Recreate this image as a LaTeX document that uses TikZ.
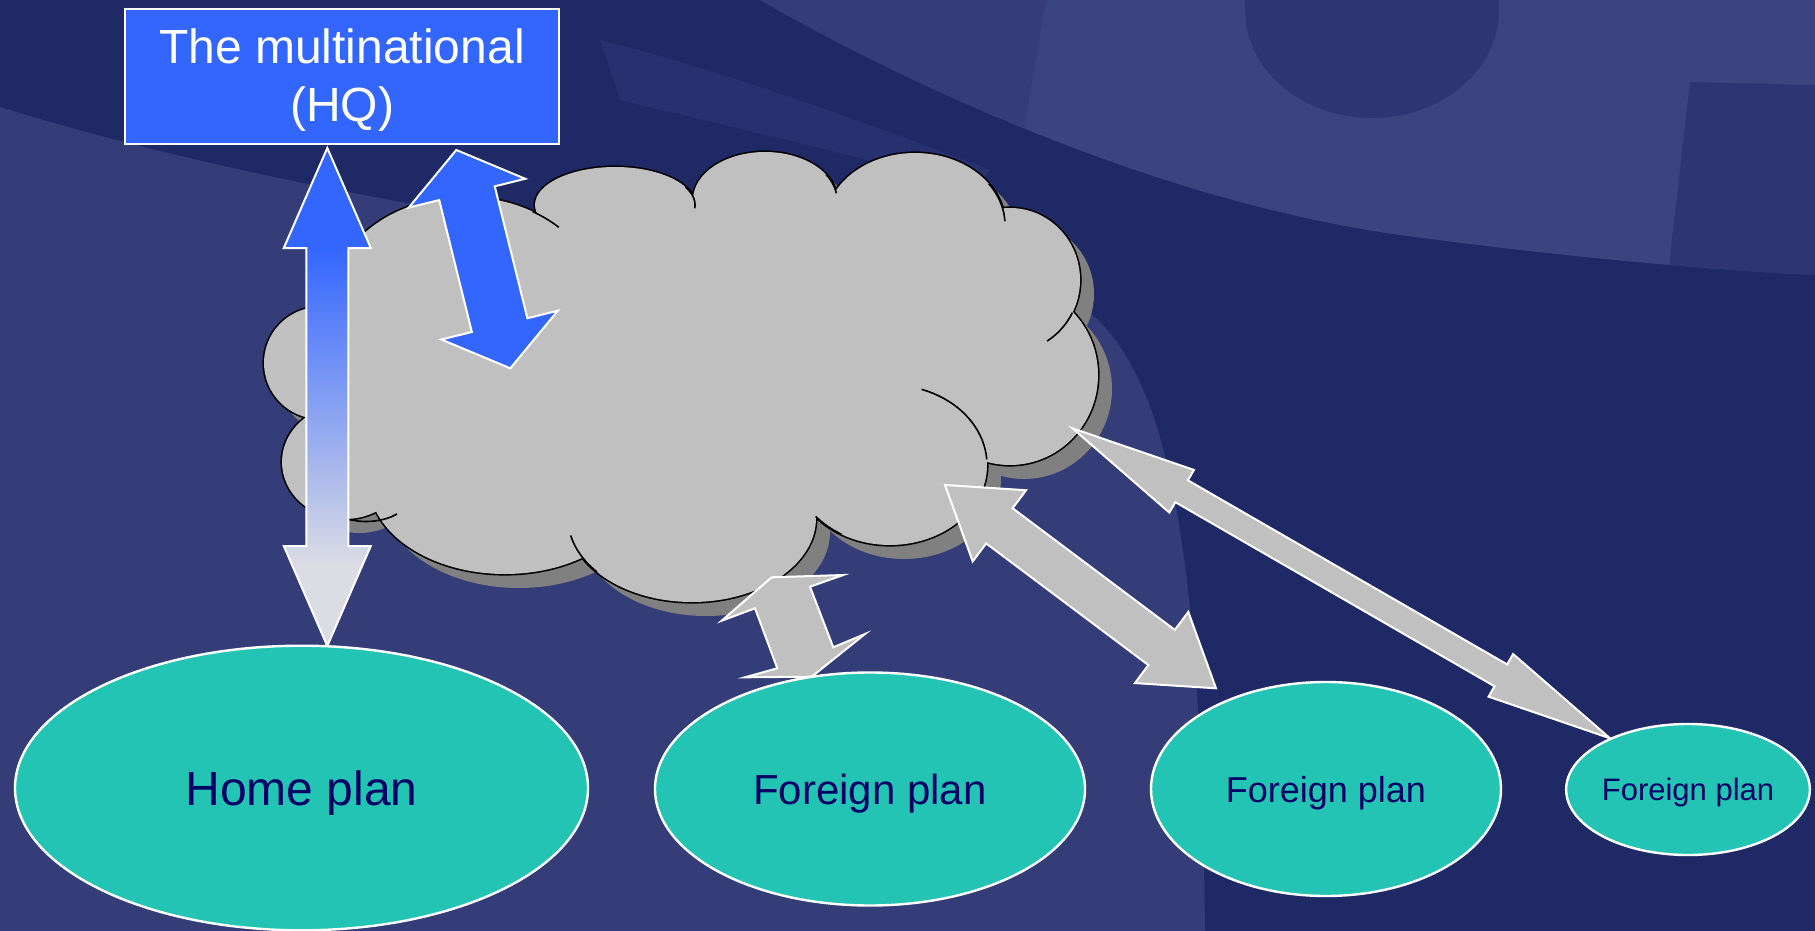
\documentclass[tikz,border=0pt]{standalone}
\usepackage{fontspec}
\setmainfont{Liberation Sans}
\usetikzlibrary{shapes.geometric}
\usetikzlibrary{calc}

\definecolor{bgdark}{HTML}{1F2966}
\definecolor{bglight}{HTML}{343D78}
\definecolor{bgband}{HTML}{3A4580}
\definecolor{bgmid}{HTML}{2D3572}
\definecolor{bgstreak}{HTML}{283070}
\definecolor{hqblue}{HTML}{3366FF}
\definecolor{fadegray}{HTML}{DCDCE4}
\definecolor{cloudgray}{HTML}{C0C0C0}
\definecolor{cloudshade}{HTML}{808080}
\definecolor{plangreen}{HTML}{23C4B4}
\definecolor{plantext}{HTML}{000066}

\pgfdeclareverticalshading{hqfade}{100bp}{color(0bp)=(fadegray); color(33bp)=(fadegray); color(65bp)=(hqblue); color(100bp)=(hqblue)}

% double block arrow: style, from, to, head length, head half width, shaft half width
\newcommand{\dblarrow}[6]{
    \path[#1] (#2) -- ($(#2)!#4!(#3)!#5!90:(#3)$) -- ($(#2)!#4!(#3)!#6!90:(#3)$)
        -- ($(#3)!#4!(#2)!#6!-90:(#2)$) -- ($(#3)!#4!(#2)!#5!-90:(#2)$) -- (#3)
        -- ($(#3)!#4!(#2)!#5!90:(#2)$) -- ($(#3)!#4!(#2)!#6!90:(#2)$)
        -- ($(#2)!#4!(#3)!#6!-90:(#3)$) -- ($(#2)!#4!(#3)!#5!-90:(#3)$) -- cycle;
}
\newcommand{\cloudbumps}{465/305/135/108, 615/205/80/38, 765/200/72/48, 915/225/90/72, 1010/280/70/72, 1010/375/88/90, 890/465/97/80, 692/518/124/84, 505/482/136/92, 345/462/63/57, 320/363/56/56}
\newcommand{\hqline}[1]{\raisebox{-2pt}[\height][\depth]{#1}}

\begin{document}
\begin{tikzpicture}[x=0.5pt,y=-0.5pt,
    plan/.style={ellipse, fill=plangreen, draw=white, line width=1.2pt, text=plantext, inner sep=0pt, text depth=0pt},
    hqbox/.style={rectangle, fill=hqblue, draw=white, line width=1pt, text=white, align=center, inner sep=0pt,
        minimum width=217pt, minimum height=67.5pt, font=\fontsize{24}{29}\selectfont},
    bluearrow/.style={fill=hqblue, draw=white, line width=1pt},
    grayarrow/.style={fill=cloudgray, draw=white, line width=1pt},
    fadearrow/.style={shade, shading=hqfade, draw=white, line width=1pt}]

    \useasboundingbox (0,0) rectangle (1815,931);

    %%% BACKGROUND
    \fill[bgdark] (0,0) rectangle (1815,931);
    \fill[bglight] (0,107) .. controls (300,200) and (700,255) .. (1050,290)
        .. controls (1160,330) and (1200,500) .. (1205,931) -- (0,931) -- cycle;
    \fill[bgstreak] (600,40) .. controls (720,70) and (860,120) .. (990,170)
        -- (975,190) .. controls (840,150) and (700,120) .. (620,100) -- cycle;
    \begin{scope}
        \clip (760,0) .. controls (900,80) and (1150,200) .. (1400,235)
            .. controls (1600,262) and (1750,272) .. (1815,275) -- (1815,0) -- cycle;
        \fill[bgband] (700,0) rectangle (1815,300);
        \fill[bglight] (700,0) -- (1046,0) -- (1012,200) -- (700,200) -- cycle;
        \fill[bgmid] (1372,10) ellipse [x radius=127, y radius=108];
        \fill[bgmid] (1690,82) -- (1815,85) -- (1815,300) -- (1665,300) -- cycle;
    \end{scope}

    %%% CLOUD
    % shadow
    \foreach \cx/\cy/\rx/\ry in \cloudbumps
        \fill[cloudshade] (\cx+14,\cy+14) ellipse [x radius=\rx, y radius=\ry];
    \fill[cloudshade, shift={(14,14)}] (465,305) -- (615,205) -- (765,200) -- (915,225) -- (1010,280) -- (1010,375)
        -- (890,465) -- (692,518) -- (505,482) -- (345,462) -- (320,363) -- cycle;
    % outline, then the fill on top of it
    \foreach \cx/\cy/\rx/\ry in \cloudbumps
        \draw[line width=1.6pt] (\cx,\cy) ellipse [x radius=\rx, y radius=\ry];
    \foreach \cx/\cy/\rx/\ry in \cloudbumps
        \fill[cloudgray] (\cx,\cy) ellipse [x radius=\rx, y radius=\ry];
    \fill[cloudgray] (465,305) -- (615,205) -- (765,200) -- (915,225) -- (1010,280) -- (1010,375)
        -- (890,465) -- (692,518) -- (505,482) -- (345,462) -- (320,363) -- cycle;
    % inner curls
    \foreach \cx/\cy/\rx/\ry/\ta/\tb in {465/305/135/108/-60/-46, 615/205/80/38/-28/5, 765/200/72/48/-32/-8,
            915/225/90/72/-35/-3, 1010/280/70/72/27/58, 890/465/97/80/-71/-4, 890/465/97/80/120/140, 692/518/124/84/140/168}
        \draw[line width=0.8pt] plot[domain=\ta:\tb, samples=20, variable=\t] ({\cx+\rx*cos(\t)}, {\cy+\ry*sin(\t)});
    \draw[line width=0.8pt] (348,519) .. controls (365,524) and (385,521) .. (397,514);

    %%% ARROWS
    \coordinate (hq-down) at (327.3,148);
    \coordinate (home-up) at (327.3,646);
    \coordinate (hq-cloud) at (456.3,150);
    \coordinate (cloud-hq) at (510.3,368.3);
    \coordinate (cloud-b) at (945,485);
    \coordinate (foreignB-up) at (1216,688.3);
    \coordinate (cloud-c) at (1072.5,428.3);
    \coordinate (foreignC-up) at (1610,738.3);

    \dblarrow{fadearrow}{hq-down}{home-up}{50pt}{21.75pt}{10.5pt}
    \dblarrow{bluearrow}{hq-cloud}{cloud-hq}{22.25pt}{30pt}{14.3pt}
    \dblarrow{grayarrow}{cloud-b}{foreignB-up}{34pt}{22.25pt}{11pt}
    \dblarrow{grayarrow}{cloud-c}{foreignC-up}{63pt}{12.3pt}{6.3pt}
    % cloud to the first foreign plan
    \draw[grayarrow] (721.7,620.7) -- (771.7,577.3) -- (843.3,575) -- (810,586.7) -- (833.3,647.3) -- (865,634)
        -- (811.7,676.7) -- (745,677.3) -- (777.3,668.3) -- (755,608.3) -- cycle;

    %%% PLANS
    \node[plan, minimum width=286.5pt, minimum height=142.3pt, font=\fontsize{24}{29}\selectfont] (home) at (301.5,788) {Home plan};
    \node[plan, minimum width=215pt, minimum height=116.5pt, font=\fontsize{21}{25}\selectfont] (foreignA) at (870,789) {Foreign plan};
    \node[plan, minimum width=175pt, minimum height=107pt, font=\fontsize{18}{22}\selectfont] (foreignB) at (1326,789) {Foreign plan};
    \node[plan, minimum width=121pt, minimum height=65.5pt, font=\fontsize{15.5}{19}\selectfont] (foreignC) at (1688,789.5) {Foreign plan};

    % Headquarters
    \node[hqbox] (hq) at (342,76.5) {\hqline{The multinational}\\\hqline{(HQ)}};
\end{tikzpicture}
\end{document}
